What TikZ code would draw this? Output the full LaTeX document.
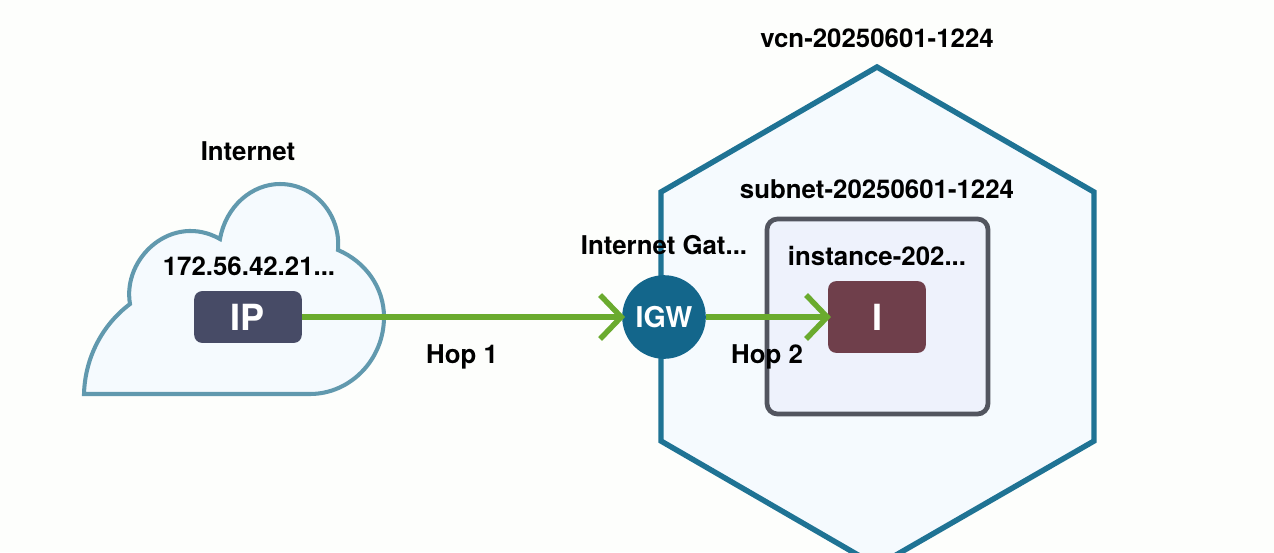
\documentclass[tikz,border=0pt]{standalone}
\usepackage{fontspec}
\setmainfont{TeX Gyre Heros}
\usetikzlibrary{arrows.meta}
\definecolor{pagebg}{HTML}{FDFEFC}
\definecolor{paleblue}{HTML}{F5FAFE}
\definecolor{cloudline}{HTML}{6199AE}
\definecolor{vcnline}{HTML}{1F7394}
\definecolor{subnetfill}{HTML}{EEF2FC}
\definecolor{subnetline}{HTML}{52555F}
\definecolor{ipfill}{HTML}{474B66}
\definecolor{igwfill}{HTML}{13668B}
\definecolor{instfill}{HTML}{6F3F4B}
\definecolor{hopgreen}{HTML}{6AAB2E}
\tikzset{
  label/.style    = {font=\bfseries\fontsize{14.7}{16}\selectfont,text=black,inner sep=0pt},
  iconbox/.style  = {rounded corners=4.5pt,text=white,inner sep=0pt,outer sep=0pt,
                     font=\bfseries\fontsize{20.5}{22}\selectfont},
  hoparr/.style   = {-{Straight Barb[length=12pt,width=25pt]},hopgreen,line width=3.1pt,shorten >=-1.6pt}
}

\begin{document}
\begin{tikzpicture}[x=0.02cm,y=-0.02cm]
  \clip (0,0) rectangle (1274,552);
  \fill[pagebg] (0,0) rectangle (1274,552);
  % cloud and hexagon
  \draw[fill=paleblue,draw=cloudline,line width=2.3pt,line join=miter]
    (84,394) .. controls (85,358) and (102,325) .. (130,304)
    .. controls (122,258) and (172,212) .. (220,239)
    .. controls (226,206) and (252,184) .. (280,184)
    .. controls (314,184) and (341,214) .. (338,250)
    .. controls (366,262) and (384,288) .. (384,317)
    .. controls (384,360) and (350,394) .. (310,394) -- cycle;
  \draw[fill=paleblue,draw=vcnline,line width=3.1pt]
    (877,67) -- (1094,192) -- (1094,441) -- (877,566) -- (661,441) -- (661,192) -- cycle;
  % subnet
  \draw[fill=subnetfill,draw=subnetline,line width=2.7pt,rounded corners=6pt]
    (767,219) rectangle (988,414);
  % icons
  \node[iconbox,fill=ipfill,minimum width=61.2pt,minimum height=29.5pt] (ipbox) at (248,317) {IP};
  \node[iconbox,fill=instfill,minimum width=55.6pt,minimum height=40.8pt] (instbox) at (877,317) {I};
  \node[circle,fill=igwfill,text=white,minimum size=47.6pt,inner sep=0pt,outer sep=0pt,
        font=\bfseries\fontsize{16.3}{18}\selectfont] (igw) at (664,317) {IGW};
  % hops
  \draw[hoparr] (ipbox) -- (igw);
  \draw[hoparr] (igw) -- (instbox);
  % labels
  \node[label] (inetlabel) at (248,151) {Internet};
  \node[label] (iplabel) at (249,266) {172.56.42.21...};
  \node[label] (hopone) at (462,357) {Hop 1};
  \node[label] (hoptwo) at (767,357) {Hop 2};
  \node[label] (igwlabel) at (664,245) {Internet Gat...};
  \node[label] (vcnlabel) at (877,38) {vcn-20250601-1224};
  \node[label] (subnetlabel) at (877,189) {subnet-20250601-1224};
  \node[label] (instlabel) at (877,256) {instance-202...};
\end{tikzpicture}
\end{document}
